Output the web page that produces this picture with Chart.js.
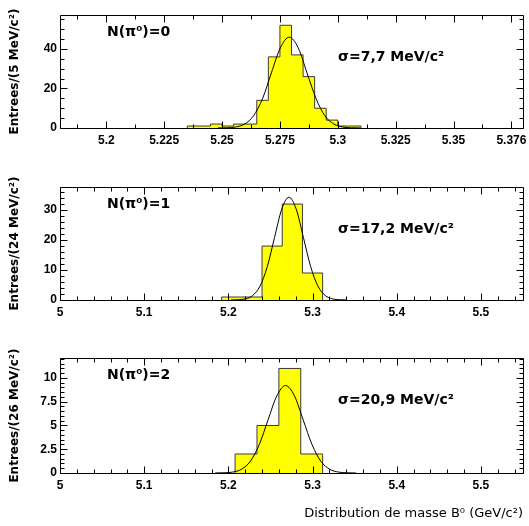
<!DOCTYPE html>
<html>
<head>
<meta charset="utf-8">
<script src="https://cdn.jsdelivr.net/npm/chart.js@4.4.1/dist/chart.umd.min.js"></script>
<style>
  body { margin: 0; background: #fff; }
  #page { position: relative; width: 529px; height: 526px; overflow: hidden; background: #fff; }
  canvas { position: absolute; left: 0; }
</style>
</head>
<body>
<div id="page">
  <canvas id="c0" width="529" height="170" style="top:0px"></canvas>
  <canvas id="c1" width="529" height="170" style="top:172px"></canvas>
  <canvas id="c2" width="529" height="183" style="top:343px"></canvas>
</div>
<script>
// N(pi0)=0 : bins de 5 MeV
const bords0 = [5.235, 5.24, 5.245, 5.25, 5.255, 5.26, 5.265, 5.27, 5.275, 5.28, 5.285, 5.29, 5.295, 5.3, 5.305, 5.31];
const entrees0 = [1, 1, 2, 1, 2, 2, 14, 36, 52, 37, 26, 10, 4, 1, 1];
const ajustX0 = [5.2482, 5.2521, 5.2559, 5.2598, 5.2636, 5.2675, 5.2713, 5.2752, 5.279, 5.2829, 5.2867, 5.2906, 5.2944, 5.2983, 5.3021, 5.306, 5.3098];
const ajustY0 = [0.02, 0.1, 0.51, 2.02, 6.2, 14.9, 27.9, 40.6, 46, 40.6, 27.9, 14.9, 6.2, 2.02, 0.51, 0.1, 0.02];

// N(pi0)=1 : bins de 24 MeV
const bords1 = [5.192, 5.216, 5.24, 5.264, 5.288, 5.312];
const entrees1 = [1, 1, 18, 32, 9];
const ajustX1 = [5.2032, 5.2118, 5.2204, 5.229, 5.2376, 5.2462, 5.2548, 5.2634, 5.272, 5.2806, 5.2892, 5.2978, 5.3064, 5.315, 5.3236, 5.3322, 5.3408];
const ajustY1 = [0.01, 0.08, 0.38, 1.51, 4.64, 11.1, 20.8, 30.3, 34.3, 30.3, 20.8, 11.1, 4.64, 1.51, 0.38, 0.08, 0.01];

// N(pi0)=2 : bins de 26 MeV
const bords2 = [5.208, 5.234, 5.26, 5.286, 5.312];
const entrees2 = [2, 5, 11, 2];
const ajustX2 = [5.1844, 5.1949, 5.2053, 5.2158, 5.2262, 5.2367, 5.2471, 5.2576, 5.268, 5.2785, 5.2889, 5.2994, 5.3098, 5.3203, 5.3307, 5.3412, 5.3516];
const ajustY2 = [0.003, 0.02, 0.1, 0.4, 1.24, 2.99, 5.58, 8.12, 9.2, 8.12, 5.58, 2.99, 1.24, 0.4, 0.1, 0.02, 0.003];

// axes
const xTicks0 = [5.2, 5.225, 5.25, 5.275, 5.3, 5.325, 5.35, 5.375];
const xLabels0 = ['5.2', '5.225', '5.25', '5.275', '5.3', '5.325', '5.35', '5.376'];
const xTicks12 = [5, 5.1, 5.2, 5.3, 5.4, 5.5];
const xLabels12 = ['5', '5.1', '5.2', '5.3', '5.4', '5.5'];
const yTicks0 = [0, 20, 40];
const yTicks1 = [0, 10, 20, 30];
const yTicks2 = [0, 2.5, 5, 7.5, 10];

const titresY = ['Entrees/(5 MeV/c²)', 'Entrees/(24 MeV/c²)', 'Entrees/(26 MeV/c²)'];
const titresN = ['N(π⁰)=0', 'N(π⁰)=1', 'N(π⁰)=2'];
const titresSigma = ['σ=7,7 MeV/c²', 'σ=17,2 MeV/c²', 'σ=20,9 MeV/c²'];
const titreX = 'Distribution de masse B⁰ (GeV/c²)';

const fonteTicks = { family: '"Liberation Sans", Arial, sans-serif', size: 12, weight: 'bold' };

// cadre + graduations vers l'interieur sur les 4 cotes, textes N(pi0) et sigma
const cadre = {
  id: 'cadre',
  afterDraw(chart, args, o) {
    const { ctx, chartArea: a, scales: { x, y } } = chart;
    const px = v => Math.round(v) + 0.5;
    const L = Math.round(a.left) + 0.5, R = Math.round(a.right) + 0.5;
    const T = Math.round(a.top) + 0.5, B = Math.round(a.bottom) + 0.5;
    ctx.save();
    ctx.strokeStyle = '#000';
    ctx.lineWidth = 1;
    ctx.beginPath();
    const graduer = (scale, maj, pas, cb) => {
      const debut = Math.ceil(scale.min / pas - 1e-6) * pas;
      for (let v = debut; v <= scale.max + 1e-9; v += pas) {
        if (maj.some(m => Math.abs(m - v) < pas / 10)) continue;
        cb(scale.getPixelForValue(v), 4);
      }
      maj.forEach(m => cb(scale.getPixelForValue(m), 7));
    };
    graduer(x, o.xMaj, o.xPas, (p, l) => {
      ctx.moveTo(px(p), B); ctx.lineTo(px(p), B - l);
      ctx.moveTo(px(p), T); ctx.lineTo(px(p), T + l);
    });
    graduer(y, o.yMaj, o.yPas, (p, l) => {
      ctx.moveTo(L, px(p)); ctx.lineTo(L + l, px(p));
      ctx.moveTo(R, px(p)); ctx.lineTo(R - l, px(p));
    });
    ctx.rect(L, T, R - L, B - T);
    ctx.stroke();

    ctx.fillStyle = '#000';
    ctx.font = 'bold 14px "DejaVu Sans", sans-serif';
    ctx.textBaseline = 'middle';
    ctx.textAlign = 'left';
    ctx.fillText(o.nom, a.left + 47, a.top + 17);
    ctx.fillText(o.sigma, a.left + 278, a.top + 42);
    ctx.restore();
  }
};

function histogramme(id, p) {
  const pts = [{ x: p.bords[0], y: 0 }];
  p.entrees.forEach((v, i) => pts.push({ x: p.bords[i], y: v }));
  pts.push({ x: p.bords[p.bords.length - 1], y: 0 });

  new Chart(document.getElementById(id), {
    type: 'line',
    data: {
      datasets: [
        {
          data: p.ajustX.map((x, i) => ({ x: x, y: p.ajustY[i] })),
          borderColor: '#000',
          borderWidth: 1,
          pointRadius: 0,
          cubicInterpolationMode: 'monotone',
          fill: false,
          order: 0
        },
        {
          data: pts,
          stepped: true,
          borderColor: '#3a3a3a',
          borderWidth: 1,
          backgroundColor: '#ffff00',
          fill: 'origin',
          pointRadius: 0,
          order: 1
        }
      ]
    },
    options: {
      responsive: false,
      animation: false,
      devicePixelRatio: 1,
      layout: { padding: { top: 15, right: 6, left: 0, bottom: 0 } },
      plugins: {
        legend: { display: false },
        tooltip: { enabled: false },
        cadre: { xMaj: p.xTicks, xPas: p.xPas, yMaj: p.yTicks, yPas: p.yPas, nom: p.nom, sigma: p.sigma }
      },
      scales: {
        x: {
          type: 'linear',
          min: p.xMin,
          max: p.xMax,
          grid: { display: false, drawTicks: false },
          border: { display: false },
          afterBuildTicks: s => { s.ticks = p.xTicks.map(v => ({ value: v })); },
          afterFit: s => { s.height = p.hauteurX; s.paddingLeft = 0; s.paddingRight = 0; },
          ticks: {
            callback: (v, i) => p.xLabels[i],
            font: fonteTicks,
            color: '#000',
            padding: 5,
            maxRotation: 0,
            autoSkip: false
          },
          title: {
            display: !!p.titreX,
            text: p.titreX || '',
            align: 'end',
            color: '#000',
            font: { family: '"DejaVu Sans", sans-serif', size: 13 },
            padding: { top: 0, bottom: 5 }
          }
        },
        y: {
          type: 'linear',
          min: 0,
          max: p.yMax,
          grid: { display: false, drawTicks: false },
          border: { display: false },
          afterBuildTicks: s => { s.ticks = p.yTicks.map(v => ({ value: v })); },
          afterFit: s => { s.width = 60; },
          ticks: {
            callback: v => String(v),
            font: fonteTicks,
            color: '#000',
            padding: 3,
            autoSkip: false
          },
          title: {
            display: true,
            text: p.titreY,
            color: '#000',
            font: { family: '"DejaVu Sans", sans-serif', size: 12, weight: 'bold' },
            padding: { top: 8, bottom: 0 }
          }
        }
      }
    },
    plugins: [cadre]
  });
}

histogramme('c0', {
  bords: bords0, entrees: entrees0, ajustX: ajustX0, ajustY: ajustY0,
  xMin: 5.18, xMax: 5.38, xTicks: xTicks0, xLabels: xLabels0, xPas: 0.0125,
  yMax: 57.2, yTicks: yTicks0, yPas: 5,
  hauteurX: 42, titreY: titresY[0], nom: titresN[0], sigma: titresSigma[0]
});
histogramme('c1', {
  bords: bords1, entrees: entrees1, ajustX: ajustX1, ajustY: ajustY1,
  xMin: 5.0, xMax: 5.55, xTicks: xTicks12, xLabels: xLabels12, xPas: 0.02,
  yMax: 37.7, yTicks: yTicks1, yPas: 2,
  hauteurX: 42, titreY: titresY[1], nom: titresN[1], sigma: titresSigma[1]
});
histogramme('c2', {
  bords: bords2, entrees: entrees2, ajustX: ajustX2, ajustY: ajustY2,
  xMin: 5.0, xMax: 5.55, xTicks: xTicks12, xLabels: xLabels12, xPas: 0.02,
  yMax: 12.1, yTicks: yTicks2, yPas: 0.5,
  hauteurX: 53, titreY: titresY[2], nom: titresN[2], sigma: titresSigma[2], titreX: titreX
});
</script>
</body>
</html>
